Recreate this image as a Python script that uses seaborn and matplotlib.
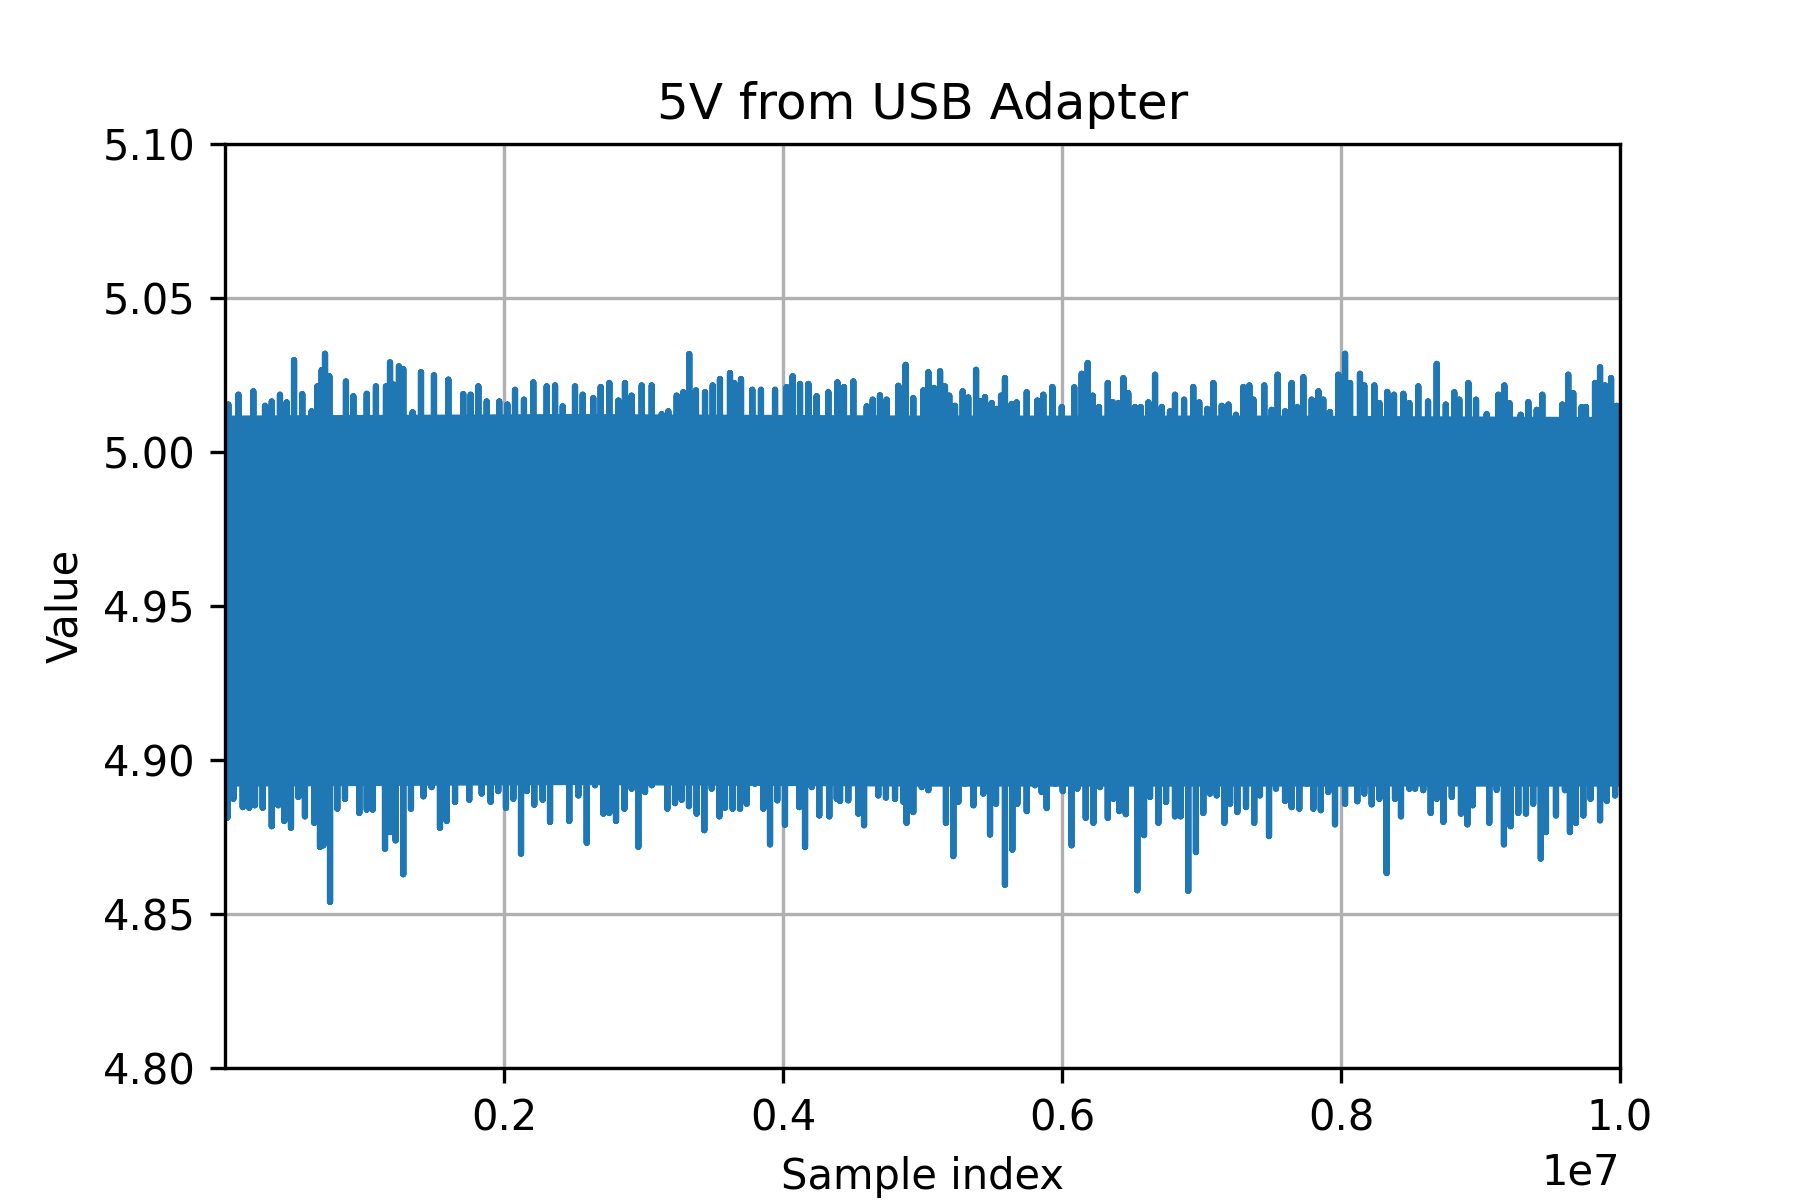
import numpy as np
import pandas as pd
import matplotlib
matplotlib.use('Agg')
import matplotlib.pyplot as plt
import seaborn as sns

# upward spikes of the trace: sample index (millions) and volts
hi_x = [0.024, 0.096, 0.203, 0.287, 0.335, 0.394, 0.442, 0.495, 0.554, 0.621,
        0.662, 0.693, 0.717, 0.748, 0.867, 0.920, 1.016, 1.082, 1.154, 1.183,
        1.207, 1.247, 1.278, 1.345, 1.405, 1.498, 1.601, 1.708, 1.761, 1.816,
        1.876, 1.966, 2.024, 2.079, 2.143, 2.210, 2.306, 2.366, 2.421, 2.509,
        2.564, 2.640, 2.693, 2.755, 2.820, 2.867, 2.915, 2.987, 3.059, 3.130,
        3.178, 3.238, 3.285, 3.328, 3.376, 3.441, 3.496, 3.548, 3.620, 3.651,
        3.699, 3.780, 3.842, 3.943, 4.026, 4.069, 4.122, 4.182, 4.241, 4.325,
        4.390, 4.437, 4.504, 4.600, 4.643, 4.695, 4.743, 4.827, 4.879, 4.934,
        5.006, 5.042, 5.083, 5.126, 5.161, 5.192, 5.233, 5.288, 5.328, 5.384,
        5.417, 5.448, 5.496, 5.532, 5.563, 5.591, 5.639, 5.675, 5.747, 5.823,
        5.866, 5.931, 5.998, 6.088, 6.141, 6.184, 6.220, 6.265, 6.328, 6.363,
        6.404, 6.440, 6.475, 6.523, 6.564, 6.619, 6.667, 6.715, 6.774, 6.810,
        6.875, 6.941, 6.984, 7.042, 7.085, 7.145, 7.193, 7.247, 7.300, 7.343,
        7.372, 7.450, 7.503, 7.546, 7.599, 7.646, 7.687, 7.730, 7.790, 7.838,
        7.873, 7.921, 7.981, 8.029, 8.065, 8.136, 8.167, 8.239, 8.275, 8.332,
        8.380, 8.447, 8.490, 8.554, 8.624, 8.686, 8.751, 8.812, 8.848, 8.913,
        8.968, 9.044, 9.128, 9.171, 9.207, 9.288, 9.343, 9.403, 9.443, 9.586,
        9.629, 9.665, 9.725, 9.756, 9.821, 9.857, 9.893, 9.936, 9.976]
hi_y = [5.0154, 5.0186, 5.0197, 5.0150, 5.0164, 5.0186, 5.0161, 5.0298, 5.0188, 5.0132,
        5.0213, 5.0266, 5.0319, 5.0246, 5.0229, 5.0181, 5.0189, 5.0213, 5.0213, 5.0291,
        5.0219, 5.0278, 5.0269, 5.0129, 5.0259, 5.0249, 5.0235, 5.0188, 5.0186, 5.0213,
        5.0164, 5.0164, 5.0154, 5.0202, 5.0170, 5.0226, 5.0213, 5.0216, 5.0148, 5.0213,
        5.0186, 5.0175, 5.0211, 5.0224, 5.0167, 5.0224, 5.0183, 5.0216, 5.0216, 5.0123,
        5.0132, 5.0183, 5.0194, 5.0318, 5.0200, 5.0194, 5.0216, 5.0237, 5.0256, 5.0224,
        5.0237, 5.0202, 5.0202, 5.0202, 5.0211, 5.0246, 5.0221, 5.0221, 5.0181, 5.0194,
        5.0226, 5.0211, 5.0229, 5.0148, 5.0170, 5.0184, 5.0170, 5.0215, 5.0283, 5.0175,
        5.0200, 5.0259, 5.0208, 5.0262, 5.0213, 5.0183, 5.0150, 5.0197, 5.0177, 5.0267,
        5.0164, 5.0178, 5.0159, 5.0140, 5.0183, 5.0240, 5.0156, 5.0161, 5.0194, 5.0167,
        5.0186, 5.0211, 5.0146, 5.0210, 5.0254, 5.0289, 5.0183, 5.0146, 5.0224, 5.0162,
        5.0159, 5.0240, 5.0191, 5.0146, 5.0146, 5.0161, 5.0251, 5.0146, 5.0132, 5.0186,
        5.0170, 5.0211, 5.0161, 5.0140, 5.0224, 5.0150, 5.0154, 5.0121, 5.0211, 5.0216,
        5.0170, 5.0216, 5.0137, 5.0251, 5.0132, 5.0224, 5.0146, 5.0243, 5.0170, 5.0197,
        5.0170, 5.0130, 5.0251, 5.0319, 5.0224, 5.0254, 5.0216, 5.0216, 5.0159, 5.0195,
        5.0186, 5.0189, 5.0159, 5.0213, 5.0164, 5.0286, 5.0154, 5.0194, 5.0170, 5.0224,
        5.0170, 5.0123, 5.0186, 5.0216, 5.0159, 5.0121, 5.0162, 5.0137, 5.0186, 5.0154,
        5.0251, 5.0191, 5.0146, 5.0146, 5.0224, 5.0275, 5.0216, 5.0240, 5.0150]

# downward spikes
lo_x = [0.017, 0.060, 0.127, 0.174, 0.215, 0.270, 0.335, 0.382, 0.425, 0.473,
        0.526, 0.573, 0.640, 0.681, 0.705, 0.753, 0.805, 0.860, 0.963, 1.016,
        1.059, 1.147, 1.183, 1.223, 1.278, 1.333, 1.422, 1.481, 1.541, 1.589,
        1.649, 1.751, 1.840, 1.904, 1.959, 2.014, 2.067, 2.122, 2.163, 2.217,
        2.277, 2.330, 2.390, 2.468, 2.533, 2.593, 2.652, 2.712, 2.755, 2.803,
        2.863, 2.915, 2.963, 3.011, 3.059, 3.106, 3.171, 3.226, 3.274, 3.326,
        3.381, 3.436, 3.489, 3.544, 3.584, 3.639, 3.692, 3.740, 3.799, 3.859,
        3.907, 3.959, 4.014, 4.117, 4.158, 4.206, 4.260, 4.332, 4.385, 4.409,
        4.468, 4.540, 4.581, 4.636, 4.683, 4.738, 4.803, 4.863, 4.886, 4.934,
        4.994, 5.042, 5.121, 5.168, 5.221, 5.257, 5.305, 5.365, 5.436, 5.484,
        5.527, 5.591, 5.644, 5.680, 5.747, 5.806, 5.854, 5.890, 5.950, 6.005,
        6.069, 6.110, 6.170, 6.225, 6.272, 6.328, 6.368, 6.411, 6.457, 6.540,
        6.588, 6.631, 6.691, 6.746, 6.810, 6.851, 6.905, 6.960, 7.013, 7.061,
        7.109, 7.164, 7.205, 7.257, 7.319, 7.378, 7.419, 7.484, 7.534, 7.599,
        7.646, 7.701, 7.754, 7.802, 7.855, 7.909, 7.957, 8.029, 8.117, 8.167,
        8.220, 8.275, 8.327, 8.387, 8.430, 8.490, 8.531, 8.590, 8.643, 8.686,
        8.734, 8.794, 8.860, 8.906, 8.944, 9.004, 9.063, 9.116, 9.168, 9.216,
        9.271, 9.326, 9.378, 9.432, 9.469, 9.541, 9.605, 9.641, 9.684, 9.737,
        9.789, 9.857, 9.905, 9.965]
lo_y = [4.8813, 4.8874, 4.8847, 4.8845, 4.8853, 4.8845, 4.8785, 4.8853, 4.8802, 4.8780,
        4.8880, 4.8817, 4.8796, 4.8718, 4.8723, 4.8539, 4.8842, 4.8874, 4.8828, 4.8839,
        4.8839, 4.8712, 4.8766, 4.8739, 4.8629, 4.8842, 4.8882, 4.8912, 4.8780, 4.8802,
        4.8864, 4.8871, 4.8891, 4.8864, 4.8899, 4.8845, 4.8874, 4.8696, 4.8899, 4.8855,
        4.8871, 4.8799, 4.8934, 4.8802, 4.8885, 4.8731, 4.8918, 4.8826, 4.8828, 4.8802,
        4.8842, 4.8907, 4.8718, 4.8896, 4.8918, 4.8939, 4.8842, 4.8860, 4.8871, 4.8850,
        4.8826, 4.8772, 4.8907, 4.8817, 4.8845, 4.8842, 4.8842, 4.8858, 4.8923, 4.8842,
        4.8726, 4.8869, 4.8790, 4.8847, 4.8718, 4.8912, 4.8820, 4.8817, 4.8874, 4.8867,
        4.8869, 4.8826, 4.8788, 4.8929, 4.8885, 4.8878, 4.8874, 4.8864, 4.8796, 4.8831,
        4.8912, 4.8902, 4.8939, 4.8796, 4.8688, 4.8864, 4.8923, 4.8853, 4.8891, 4.8758,
        4.8858, 4.8595, 4.8709, 4.8858, 4.8834, 4.8918, 4.8896, 4.8844, 4.8923, 4.8899,
        4.8723, 4.8907, 4.8812, 4.8796, 4.8912, 4.8812, 4.8874, 4.8834, 4.8824, 4.8577,
        4.8756, 4.8880, 4.8796, 4.8864, 4.8817, 4.8817, 4.8575, 4.8701, 4.8828, 4.8891,
        4.8885, 4.8796, 4.8858, 4.8831, 4.8847, 4.8796, 4.8885, 4.8753, 4.8907, 4.8867,
        4.8847, 4.8842, 4.8923, 4.8842, 4.8837, 4.8896, 4.8791, 4.8858, 4.8866, 4.8891,
        4.8856, 4.8874, 4.8633, 4.8874, 4.8817, 4.8907, 4.8907, 4.8902, 4.8828, 4.8874,
        4.8799, 4.8880, 4.8826, 4.8791, 4.8853, 4.8934, 4.8796, 4.8903, 4.8726, 4.8785,
        4.8828, 4.8826, 4.8858, 4.8680, 4.8766, 4.8820, 4.8902, 4.8766, 4.8796, 4.8820,
        4.8874, 4.8804, 4.8867, 4.8885]

# dense solid part of the trace
core_x = [0.0, 2.5, 5.0, 7.5, 10.0]
core_top = [5.0120, 5.0125, 5.0120, 5.0120, 5.0115]
core_bot = [4.8915, 4.8920, 4.8915, 4.8915, 4.8915]

# build one trace: go from the middle of the band out to each spike and back
x_all = np.array(hi_x + lo_x) * 1e6
y_all = np.array(hi_y + lo_y)
order = np.argsort(x_all)
mid = (np.mean(core_top) + np.mean(core_bot)) / 2
xs = np.repeat(x_all[order], 3)
ys = np.column_stack([np.full(len(order), mid), y_all[order],
                      np.full(len(order), mid)]).ravel()
df = pd.DataFrame({'Sample index': xs, 'Value': ys})

fig, ax = plt.subplots(figsize=(6, 4), dpi=300)
ax.fill_between(np.array(core_x) * 1e6, core_bot, core_top,
                color='#1f77b4', lw=0, zorder=2)
sns.lineplot(data=df, x='Sample index', y='Value', sort=False, estimator=None,
             color='#1f77b4', lw=1.5, ax=ax)
ax.set_xlim(1, 1e7)
ax.set_ylim(4.80, 5.10)
ax.set_title('5V from USB Adapter')
ax.set_xlabel('Sample index')
ax.set_ylabel('Value')
ax.grid(True)
fig.savefig('out.png')
